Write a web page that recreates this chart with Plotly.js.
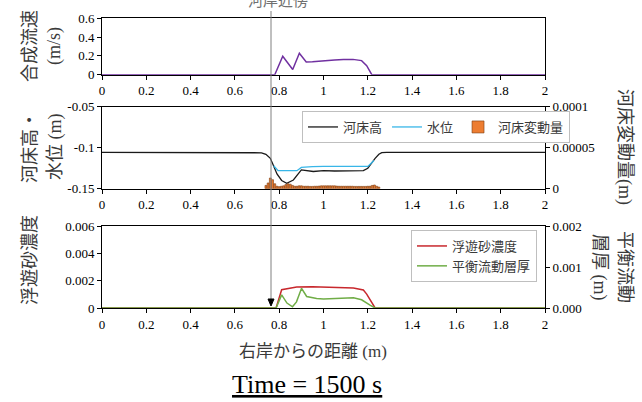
<!DOCTYPE html>
<html>
<head>
<meta charset="utf-8">
<script src="https://cdn.plot.ly/plotly-3.0.1.min.js"></script>
<style>html,body{margin:0;padding:0;background:#fff;}#chart{width:642px;height:402px;}</style>
</head>
<body>
<div id="chart"></div>
<script>
// ---- data ----
const xTicks = [0, 0.2, 0.4, 0.6, 0.8, 1, 1.2, 1.4, 1.6, 1.8, 2];

// top panel: resultant velocity (m/s)
const xVel = [0, 0.78, 0.816, 0.861, 0.891, 0.922, 0.95, 1.0, 1.05, 1.09, 1.133, 1.172, 1.195, 1.218, 2];
const vel  = [0, 0, 0.196, 0.056, 0.228, 0.135, 0.138, 0.150, 0.156, 0.162, 0.163, 0.150, 0.096, 0, 0];

// middle panel: bed elevation & water level (m)
const xBed = [0, 0.70, 0.72, 0.74, 0.76, 0.773, 0.79, 0.811, 0.834, 0.864, 0.9, 0.954, 1.0, 1.05, 1.1, 1.18, 1.2, 1.215, 1.233, 1.25, 1.263, 1.285, 2];
const bed  = [-0.1056, -0.1056, -0.1062, -0.108, -0.113, -0.121, -0.132, -0.140, -0.1435, -0.1394, -0.127, -0.129, -0.128, -0.1284, -0.1284, -0.128, -0.125, -0.119, -0.113, -0.108, -0.1061, -0.1056, -0.1056];
const xWL  = [0.775, 0.795, 0.88, 0.9, 0.95, 1.0, 1.2, 1.215, 1.228];
const wl   = [-0.122, -0.128, -0.128, -0.124, -0.1232, -0.1228, -0.1228, -0.119, -0.1155];

// middle panel: bed change (m), right axis
const xBar = [0.74, 0.75, 0.76, 0.77, 0.78, 0.79, 0.80, 0.81, 0.82, 0.83, 0.84, 0.85, 0.86, 0.87, 0.88, 0.89,
              0.90, 0.91, 0.92, 0.93, 0.94, 0.95, 0.96, 0.97, 0.98, 0.99, 1.00, 1.01, 1.02, 1.03, 1.04, 1.05,
              1.06, 1.07, 1.08, 1.09, 1.10, 1.11, 1.12, 1.13, 1.14, 1.15, 1.16, 1.17, 1.18, 1.19, 1.20, 1.21,
              1.22, 1.23, 1.24, 1.25];
const bedChange = [4e-6, 7e-6, 1.3e-5, 1.1e-5, 6e-6, 3e-6, 2.5e-6, 3e-6, 3.5e-6, 5e-6, 6e-6, 5.5e-6, 4e-6, 3e-6, 3e-6, 3.5e-6,
              3.5e-6, 3e-6, 3e-6, 3e-6, 2.8e-6, 2.8e-6, 3e-6, 3e-6, 3.2e-6, 3.5e-6, 3.5e-6, 3.5e-6, 3.5e-6, 3.5e-6, 3.5e-6, 3.5e-6,
              3.2e-6, 3e-6, 3e-6, 3e-6, 3e-6, 3e-6, 3e-6, 3e-6, 2.8e-6, 2.8e-6, 2.8e-6, 2.8e-6, 2.8e-6, 2.8e-6, 3e-6, 3e-6,
              4e-6, 4.5e-6, 3e-6, 2e-6];

// bottom panel: suspended sediment concentration (left) & equilibrium layer thickness (m, right)
const xSS = [0, 0.786, 0.811, 0.879, 0.95, 1.03, 1.135, 1.18, 1.195, 1.233, 2];
const ss  = [0, 0, 0.00134, 0.00153, 0.00155, 0.00153, 0.00147, 0.00132, 0.00102, 0, 0];
const xEq = [0, 0.786, 0.811, 0.835, 0.86, 0.878, 0.901, 0.924, 0.969, 1.0, 1.135, 1.172, 1.21, 1.233, 2];
const eq  = [0, 0, 0.00032, 0.00012, 0.00003, 0.00015, 0.00048, 0.00028, 0.00023, 0.00022, 0.00025, 0.0002, 0.00007, 0, 0];

const yVelTicks = [0, 0.2, 0.4, 0.6], yVelText = ['0', '0.2', '0.4', '0.6'];
const yBedTicks = [-0.15, -0.1, -0.05], yBedText = ['-0.15', '-0.1', '-0.05'];
const yChgTicks = [0, 0.00005, 0.0001], yChgText = ['0', '0.00005', '0.0001'];
const ySSTicks = [0, 0.002, 0.004, 0.006], ySSText = ['0', '0.002', '0.004', '0.006'];
const yEqTicks = [0, 0.001, 0.002], yEqText = ['0.000', '0.001', '0.002'];

// ---- layout helpers ----
const W = 642, H = 402;
const px = v => v / W;           // x pixel -> paper
const py = v => 1 - v / H;       // y pixel -> paper
const SERIF = '"Liberation Serif", "Times New Roman", serif';
const LABEL = '"Liberation Serif", "Noto Sans CJK JP", serif';
const tickFont = () => ({family: SERIF, size: 13, color: '#000'});
const xDom = [px(102), px(545)];

function xAx(anchor) {
  return {domain: xDom, anchor: anchor, range: [0, 2], tickvals: xTicks, ticktext: xTicks.map(String),
          showgrid: false, zeroline: false, showline: true, linecolor: '#000', linewidth: 1, mirror: true,
          ticks: 'outside', ticklen: 4, tickcolor: '#000', tickfont: tickFont()};
}
function yAx(dom, range, tv, tt, extra) {
  return Object.assign({domain: dom, range: range, tickvals: tv, ticktext: tt, showgrid: false, zeroline: false,
          showline: true, linecolor: '#000', linewidth: 1, ticks: 'outside', ticklen: 4, tickcolor: '#000',
          tickfont: tickFont()}, extra || {});
}

const traces = [
  {x: xVel, y: vel, xaxis: 'x', yaxis: 'y', type: 'scatter', mode: 'lines', line: {color: '#7030A0', width: 1.5}, showlegend: false},
  {x: xBed, y: bed, xaxis: 'x2', yaxis: 'y2', type: 'scatter', mode: 'lines', name: '河床高', line: {color: '#1a1a1a', width: 1.3}, legend: 'legend'},
  {x: xWL, y: wl, xaxis: 'x2', yaxis: 'y2', type: 'scatter', mode: 'lines', name: '水位', line: {color: '#38B6E8', width: 1.3}, legend: 'legend'},
  {x: xBar, y: bedChange, xaxis: 'x2', yaxis: 'y3', type: 'bar', name: '河床変動量', width: 0.0085,
   marker: {color: '#ED7D31', line: {color: '#7a3a0e', width: 0.6}}, legend: 'legend'},
  {x: xSS, y: ss, xaxis: 'x3', yaxis: 'y4', type: 'scatter', mode: 'lines', name: '浮遊砂濃度', line: {color: '#C8282D', width: 1.5}, legend: 'legend2'},
  {x: xEq, y: eq, xaxis: 'x3', yaxis: 'y5', type: 'scatter', mode: 'lines', name: '平衡流動層厚', line: {color: '#70AD47', width: 1.5}, legend: 'legend2'}
];

const labFont = (size, color) => ({family: LABEL, size: size, color: color || '#3a3a3a'});
function lab(x, y, text, angle, size, color) {
  return {xref: 'paper', yref: 'paper', x: px(x), y: py(y), text: text, textangle: angle || 0, showarrow: false,
          xanchor: 'center', yanchor: 'middle', font: labFont(size || 18, color)};
}

const layout = {
  width: W, height: H, margin: {l: 0, r: 0, t: 0, b: 0}, paper_bgcolor: '#fff', plot_bgcolor: '#fff',
  xaxis: xAx('y'), xaxis2: xAx('y2'), xaxis3: xAx('y4'),
  yaxis: yAx([py(74.7), py(18.3)], [0, 0.6], yVelTicks, yVelText, {mirror: true}),
  yaxis2: yAx([py(188.7), py(106.7)], [-0.15, -0.05], yBedTicks, yBedText),
  yaxis3: yAx([py(188.7), py(106.7)], [0, 0.0001], yChgTicks, yChgText, {overlaying: 'y2', side: 'right', anchor: 'x2'}),
  yaxis4: yAx([py(308), py(226)], [0, 0.006], ySSTicks, ySSText),
  yaxis5: yAx([py(308), py(226)], [0, 0.002], yEqTicks, yEqText, {overlaying: 'y4', side: 'right', anchor: 'x3'}),
  barmode: 'overlay', bargap: 0,
  legend: {orientation: 'h', x: px(302), y: py(111), xanchor: 'left', yanchor: 'top', bgcolor: '#fff',
           bordercolor: '#bfbfbf', borderwidth: 1, font: labFont(13), itemwidth: 30, traceorder: 'normal'},
  legend2: {orientation: 'v', x: px(411), y: py(230), xanchor: 'left', yanchor: 'top', bgcolor: '#fff',
           bordercolor: '#bfbfbf', borderwidth: 1, font: labFont(13), itemwidth: 30},
  shapes: [
    {type: 'line', xref: 'paper', yref: 'paper', x0: px(271), x1: px(271), y0: py(11), y1: py(300), line: {color: '#808080', width: 1}, layer: 'above'},
    {type: 'path', xref: 'paper', yref: 'paper', path: `M ${px(268)} ${py(299)} L ${px(274)} ${py(299)} L ${px(271)} ${py(306)} Z`,
     fillcolor: '#000', line: {color: '#000', width: 1}, layer: 'above'}
  ],
  annotations: [
    lab(278, 1, '河岸近傍', 0, 15, '#707070'),
    lab(30, 46, '合成流速', -90, 18),
    lab(54, 46, '(m/s)', -90, 18),
    lab(30, 147, '河床高・', -90, 18),
    lab(55, 147, '水位 (m)', -90, 18),
    lab(30, 260, '浮遊砂濃度', -90, 18),
    lab(625, 147, '河床変動量(m)', 90, 18),
    lab(625, 267, '平衡流動', 90, 18),
    lab(600, 267, '層厚 (m)', 90, 18),
    lab(313, 351, '右岸からの距離 (m)', 0, 17),
    {xref: 'paper', yref: 'paper', x: px(307), y: py(384), text: 'Time = 1500 s', showarrow: false,
     xanchor: 'center', yanchor: 'middle', font: {family: SERIF, size: 26, color: '#000', lineposition: 'under'}}
  ]
};

Plotly.newPlot('chart', traces, layout, {staticPlot: true, displayModeBar: false});
</script>
</body>
</html>
